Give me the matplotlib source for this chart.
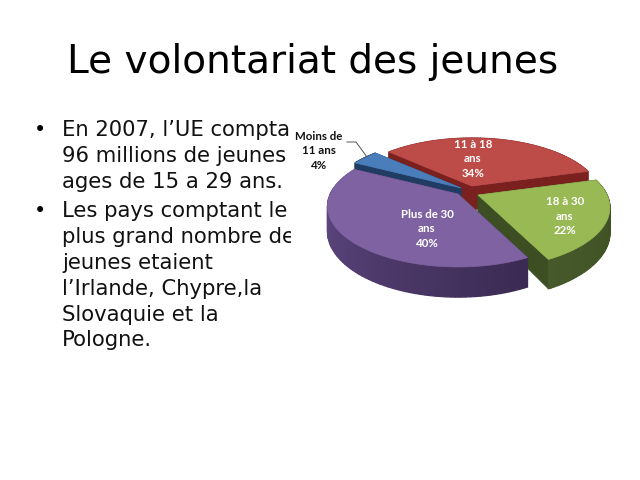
import numpy as np
import matplotlib
matplotlib.use("Agg")
import matplotlib.pyplot as plt
from matplotlib.patches import Polygon, Rectangle

title = "Le volontariat des jeunes"
bullet_1 = ["En 2007, l’UE compta", "96 millions de jeunes", "ages de 15 a 29 ans."]
bullet_2 = ["Les pays comptant le", "plus grand nombre de", "jeunes etaient",
            "l’Irlande, Chypre,la", "Slovaquie et la", "Pologne."]

categories = ["11 à 18\nans", "Moins de\n11 ans", "Plus de 30\nans", "18 à 30\nans"]
values = [34, 4, 40, 22]

# styles, same order as the slices
top_colors = ["#bd4b48", "#4a7ebb", "#7f62a1", "#98b954"]
side_light = ["#7a2120", "#203c62", "#6a5190", "#46592a"]
side_dark = ["#7a2120", "#203c62", "#3a2a52", "#3c4e22"]
apex = [(472, 186), (461, 188), (458, 194), (478, 195)]
radius = [0.97, 1.0, 0.975, 0.985]
label_pos = [(473, 159), (319, 151), (427, 229), (565, 216)]
label_col = ["white", "#111111", "white", "white"]
draw_order = [0, 1, 3, 2]

start_angle = 15.6
Rx, Ry, k, depth = 131, 59.5, 0.21, 24


def project(a, ang, r=1.0):
    x, y = r * np.cos(ang), r * np.sin(ang)
    s = 1 / (1 + k * y)
    return a[0] + Rx * x * s, a[1] - Ry * y * s, s


def mix(c1, c2, t):
    c1 = np.array(matplotlib.colors.to_rgb(c1))
    c2 = np.array(matplotlib.colors.to_rgb(c2))
    return c1 + (c2 - c1) * t


fig = plt.figure(figsize=(6.4, 4.8), dpi=100)
ax = fig.add_axes([0, 0, 1, 1])
ax.set_xlim(0, 640)
ax.set_ylim(480, 0)
ax.axis("off")

# slide text
ax.text(313, 62, title, fontsize=28.1, ha="center", va="center", color="black")
y = 130
for lines in (bullet_1, bullet_2):
    ax.text(40, y, "•", fontsize=15, ha="center", va="center", color="black")
    for line in lines:
        ax.text(62, y, line, fontsize=15.25, ha="left", va="center", color="#111111")
        y += 25.8
    y += 4

# the chart picture sits on a white box over the text
ax.add_patch(Rectangle((291, 112), 330, 200, fc="white", ec="none", zorder=3))

edges = np.cumsum([0] + values) / sum(values) * 2 * np.pi + np.radians(start_angle)

for n, i in enumerate(draw_order):
    z = 4 + n
    a = apex[i]
    angs = np.linspace(edges[i], edges[i + 1], 80)
    pts = [project(a, t, radius[i]) for t in angs]
    # flat walls
    for t in (edges[i], edges[i + 1]):
        px, py, s = project(a, t, radius[i])
        ax.add_patch(Polygon([a, (px, py), (px, py + depth * s), (a[0], a[1] + depth)],
                             fc=side_dark[i], ec=side_dark[i], lw=0.5, zorder=z))
    # rim
    for j in range(len(pts) - 1):
        x0, y0, s0 = pts[j]
        x1, y1, s1 = pts[j + 1]
        c = mix(side_light[i], side_dark[i], j / (len(pts) - 1))
        ax.add_patch(Polygon([(x0, y0), (x1, y1), (x1, y1 + depth * s1), (x0, y0 + depth * s0)],
                             fc=c, ec=c, lw=0.9, zorder=z))
    # top face
    ax.add_patch(Polygon([a] + [(p[0], p[1]) for p in pts], fc=top_colors[i],
                         ec=top_colors[i], lw=0.5, zorder=z + 0.5))

for cat, val, pos, col in zip(categories, values, label_pos, label_col):
    ax.text(pos[0], pos[1], f"{cat}\n{val}%", fontsize=8.3, family="Lato", weight="bold",
            color=col, ha="center", va="center", linespacing=1.4, zorder=20)

ax.plot([347, 356, 367], [142, 142, 157], color="#555555", lw=0.7, zorder=20)

fig.savefig("out.png", dpi=100)
